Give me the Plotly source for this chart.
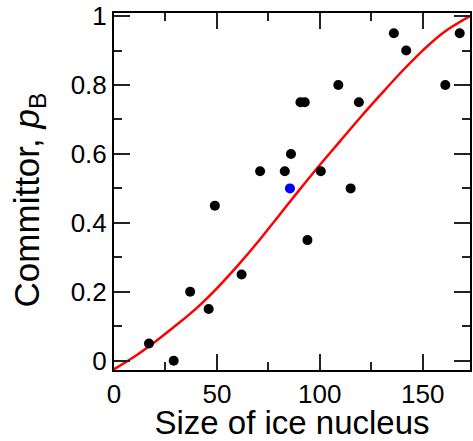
import plotly.graph_objects as go

# Committor estimates for trial nuclei
nucleus_size = [17, 29, 37, 46, 49, 62, 71, 83, 86, 90.6, 92.7, 94, 100.5,
                109, 115, 119, 136, 142, 161, 168]
committor = [0.05, 0.0, 0.20, 0.15, 0.45, 0.25, 0.55, 0.55, 0.60, 0.75, 0.75,
             0.35, 0.55, 0.80, 0.50, 0.75, 0.95, 0.90, 0.80, 0.95]

# Highlighted nucleus at p_B = 1/2
critical_size = [85.5]
critical_pb = [0.50]

# Fitted committor curve
fit_size = [0, 10, 20, 30, 40, 50, 60, 70, 80, 90, 100, 110, 120, 130, 140,
            150, 160, 173]
fit_pb = [-0.025, 0.012, 0.055, 0.102, 0.152, 0.21, 0.275, 0.345, 0.42, 0.495,
          0.568, 0.638, 0.708, 0.775, 0.84, 0.90, 0.952, 1.0]

FONT = "Liberation Sans, Arial, Helvetica, sans-serif"

fig = go.Figure()
fig.add_trace(go.Scatter(
    x=fit_size, y=fit_pb, mode="lines",
    line=dict(color="#ff0000", width=2.5, shape="spline", smoothing=1.0),
    hoverinfo="skip", showlegend=False,
))
fig.add_trace(go.Scatter(
    x=nucleus_size, y=committor, mode="markers",
    marker=dict(color="black", size=10), showlegend=False,
))
fig.add_trace(go.Scatter(
    x=critical_size, y=critical_pb, mode="markers",
    marker=dict(color="#0000ff", size=10), showlegend=False,
))

axis_common = dict(
    showgrid=False, zeroline=False,
    showline=True, linecolor="black", linewidth=2, mirror="ticks",
    ticks="inside", ticklen=16, tickwidth=1.5, tickcolor="#222",
    tickfont=dict(family=FONT, size=26, color="black"),
    ticklabeloverflow="allow",
)

fig.update_xaxes(
    range=[0, 173], tick0=0, dtick=50,
    minor=dict(dtick=25, ticklen=8, tickwidth=1.5, tickcolor="#222", ticks="inside"),
    title=dict(text="Size of ice nucleus", font=dict(family=FONT, size=33, color="black"),
               standoff=2),
    **axis_common,
)
fig.update_yaxes(
    range=[-0.027, 1.009],
    tickvals=[0, 0.2, 0.4, 0.6, 0.8, 1], ticktext=["0", "0.2", "0.4", "0.6", "0.8", "1"],
    minor=dict(tickvals=[0.1, 0.3, 0.5, 0.7, 0.9], ticklen=8, tickwidth=1.5,
               tickcolor="#222", ticks="inside"),
    **axis_common,
)

# y-axis title placed as a rotated annotation
fig.add_annotation(
    text="Committor, <i>p</i><sub>B</sub>",
    xref="paper", yref="paper", x=0, y=0.475,
    xshift=-85, xanchor="center", yanchor="middle",
    textangle=-90, showarrow=False,
    font=dict(family=FONT, size=35, color="black"),
)

fig.update_layout(
    width=473, height=441,
    margin=dict(l=114, r=1, t=9, b=71),
    paper_bgcolor="white", plot_bgcolor="white",
)

fig.write_html("out.html")
